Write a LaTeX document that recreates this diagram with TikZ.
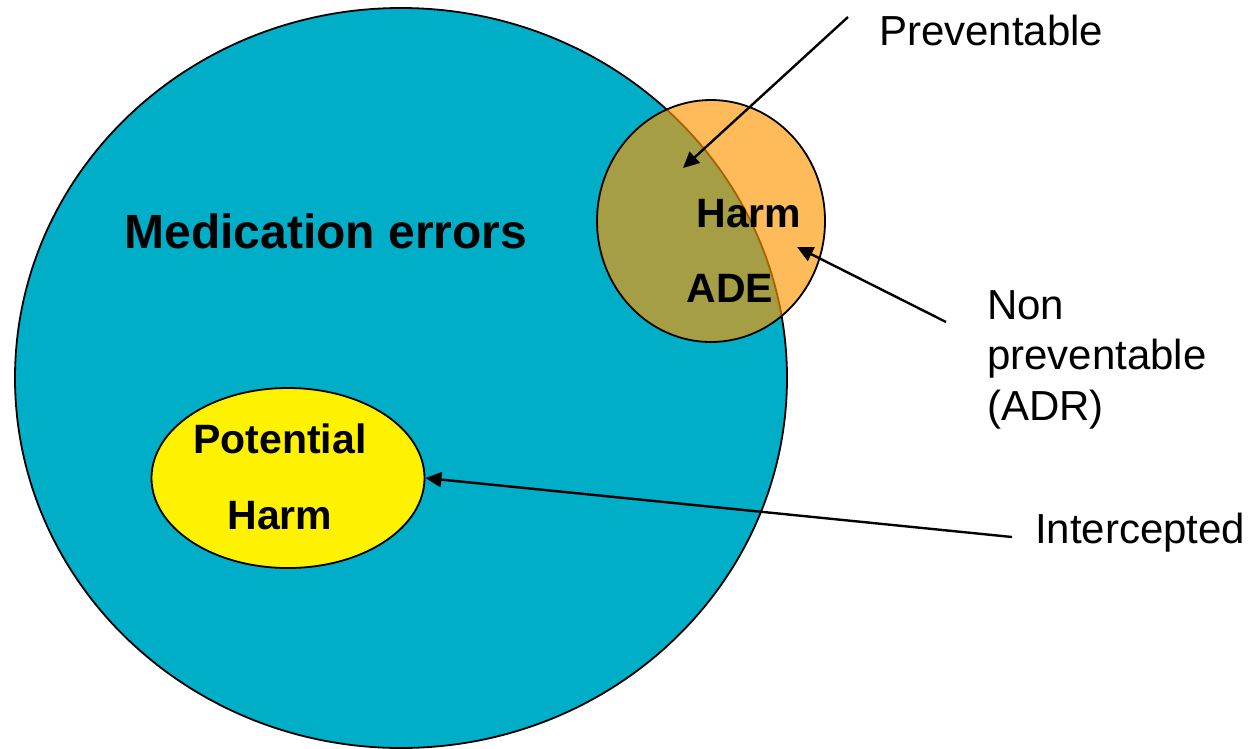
\documentclass[tikz,border=0pt]{standalone}
\usepackage{fontspec}
\setmainfont{Liberation Sans}
\usetikzlibrary{shapes.geometric, arrows.meta}
\definecolor{errblue}{RGB}{0,174,199}
\definecolor{harmorange}{RGB}{255,150,0}
\tikzset{
    region/.style={draw, ellipse, line width=1.8pt, inner sep=0pt},
    biglabel/.style={font=\fontsize{48}{56}\selectfont\bfseries},
    inlabel/.style={font=\fontsize{41}{49}\selectfont\bfseries, inner sep=0pt},
    outlabel/.style={font=\fontsize{42}{50.5}\selectfont, align=left, inner sep=0pt},
    pointer/.style={-{Triangle[length=16pt, width=15pt]}, line width=2.4pt} }

\begin{document}
\begin{tikzpicture}[x=1pt, y=-1pt]
    \useasboundingbox (0,0) rectangle (1255,748);
    \node[region, fill=errblue, minimum width=772pt, minimum height=740pt] (errors) at (401,378) {};
    \node[region, fill=yellow, minimum width=273pt, minimum height=180pt] (potential) at (288,478) {};
    \node[region, fill=harmorange, fill opacity=0.65, minimum width=228pt, minimum height=242pt] (ade) at (711,221) {};
    % ----
    \node[biglabel, anchor=base] (errtext) at (326,248) {Medication errors};
    \node[inlabel, anchor=base] (potline) at (280,453) {Potential};
    \node[inlabel, anchor=base] (potharm) at (280,529) {Harm};
    \node[inlabel, anchor=base] (adeharm) at (749,227) {Harm};
    \node[inlabel, anchor=base] (adetext) at (730,302) {ADE};
    \node[outlabel, anchor=base west] (prevtext) at (879,45) {Preventable};
    \node[outlabel, anchor=base west] (nontext) at (987,420) {Non\\preventable\\(ADR)};
    \node[outlabel, anchor=base west] (inttext) at (1035,543) {Intercepted};
    % ----
    \coordinate (prevtail) at (848,17);
    \coordinate (prevtip) at (683,168);
    \coordinate (nontail) at (946,322);
    \coordinate (nontip) at (797,247);
    \coordinate (inttail) at (1012,537);
    \draw[pointer] (prevtail) -- (prevtip);
    \draw[pointer] (nontail) -- (nontip);
    \draw[pointer] (inttail) -- (potential.east);
\end{tikzpicture}
\end{document}
